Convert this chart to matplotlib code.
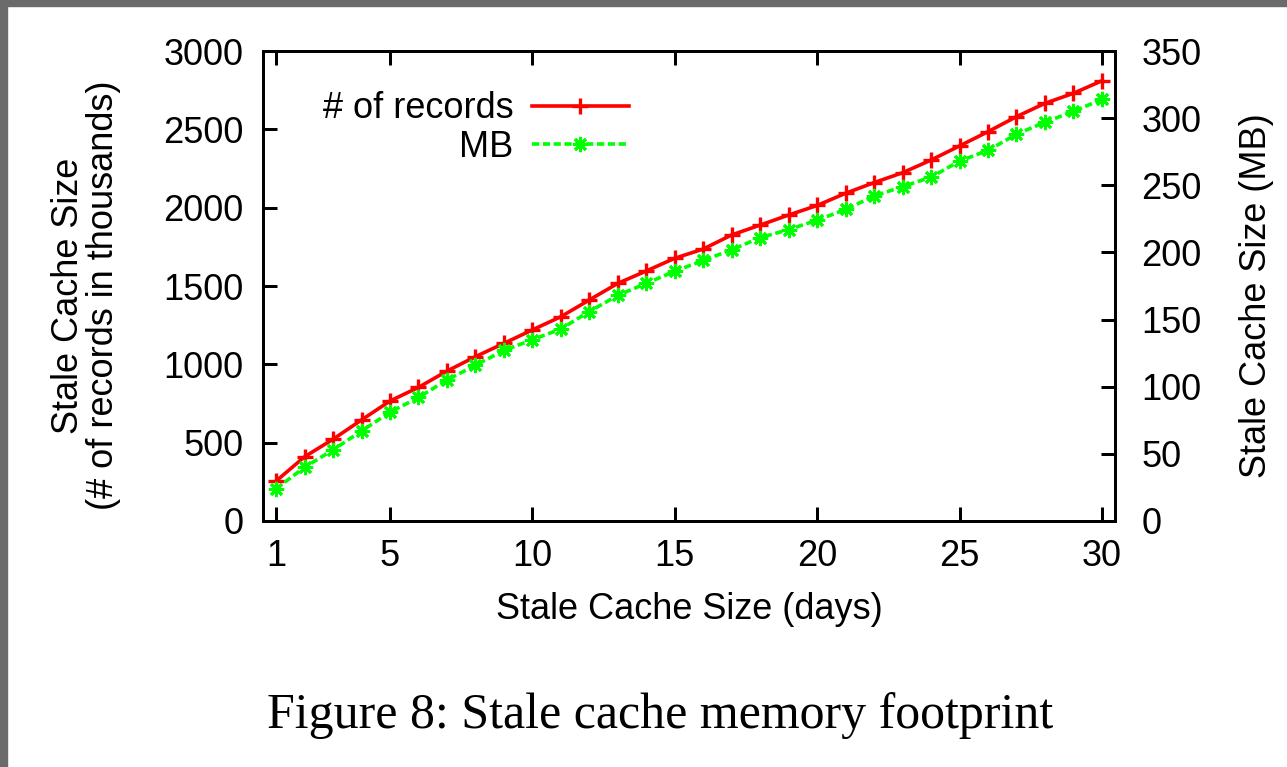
import matplotlib
matplotlib.use("Agg")
import matplotlib.pyplot as plt
from matplotlib.patches import Rectangle

# ---- data ----
days = list(range(1, 31))
records_k = [255, 410, 522, 645, 766, 853, 957, 1049, 1134, 1220,
             1304, 1411, 1517, 1596, 1677, 1736, 1826, 1889, 1953, 2014,
             2092, 2160, 2223, 2304, 2394, 2485, 2581, 2666, 2730, 2810]
size_mb = [24, 40, 53, 67, 81, 92, 105, 116, 127, 135,
           143, 156, 168, 177, 186, 194, 202, 211, 217, 224,
           232, 242, 249, 256, 268, 276, 288, 297, 305, 314]

x_ticks = [1, 5, 10, 15, 20, 25, 30]
left_ticks = [0, 500, 1000, 1500, 2000, 2500, 3000]
right_ticks = [0, 50, 100, 150, 200, 250, 300, 350]

SANS = "Liberation Sans"
SERIF = "Liberation Serif"
FS = 26
LW = 2.16

plt.rcParams["font.family"] = SANS

fig = plt.figure(figsize=(12.87, 7.67), dpi=100)
ax = fig.add_axes([263 / 1287, 1 - 521 / 767, 852 / 1287, 470 / 767])
ax2 = ax.twinx()

l1, = ax.plot(days, records_k, color="#ff0000", lw=2.6, marker="+",
              markersize=12, markeredgewidth=2.4, label="# of records")
l2, = ax2.plot(days, size_mb, color="#00ff00", lw=2.6, ls=(0, (2, 1)),
               marker=(8, 2, 0), markersize=11, markeredgewidth=2.0,
               label="MB")

ax.set_xlim(0.54, 30.46)
ax.set_ylim(0, 3000)
ax2.set_ylim(0, 350)

ax.set_xticks(x_ticks)
ax.set_yticks(left_ticks)
ax2.set_yticks(right_ticks)

for a in (ax, ax2):
    for s in a.spines.values():
        s.set_linewidth(LW)
ax.tick_params(axis="both", direction="in", length=10, width=LW,
               labelsize=FS, top=True, right=False)
ax.tick_params(axis="y", pad=14)
ax.tick_params(axis="x", pad=13)
ax2.tick_params(axis="y", direction="in", length=10, width=LW,
                labelsize=FS, pad=19)

ax.set_xlabel("Stale Cache Size (days)", fontsize=FS)
ax.xaxis.set_label_coords(0.5, -0.152)
ax.set_ylabel("Stale Cache Size\n(# of records in thousands)",
              fontsize=FS, linespacing=1.0)
ax.yaxis.set_label_coords(-0.167, 0.48)
ax2.set_ylabel("Stale Cache Size (MB)", fontsize=FS)
ax2.yaxis.set_label_coords(1.145, 0.48)

ax.legend(handles=[l1, l2], loc="center right",
          bbox_to_anchor=((629 - 263) / 852, (521 - 128) / 470),
          frameon=False, markerfirst=False, fontsize=FS,
          handlelength=2.7, handletextpad=0.5, labelspacing=0.1,
          borderpad=0, borderaxespad=0)

fig.text(660 / 1287, 1 - 716 / 767, "Figure 8: Stale cache memory footprint",
         family=SERIF, fontsize=36, ha="center", va="center")

# grey page edge on the left and top
fig.add_artist(Rectangle((0, 0), 7 / 1287, 1, transform=fig.transFigure,
                         color="#6b6b6b", zorder=10))
fig.add_artist(Rectangle((0, 1 - 6 / 767), 1, 6 / 767,
                         transform=fig.transFigure, color="#6b6b6b",
                         zorder=10))

fig.savefig("out.png", dpi=100, facecolor="white")
